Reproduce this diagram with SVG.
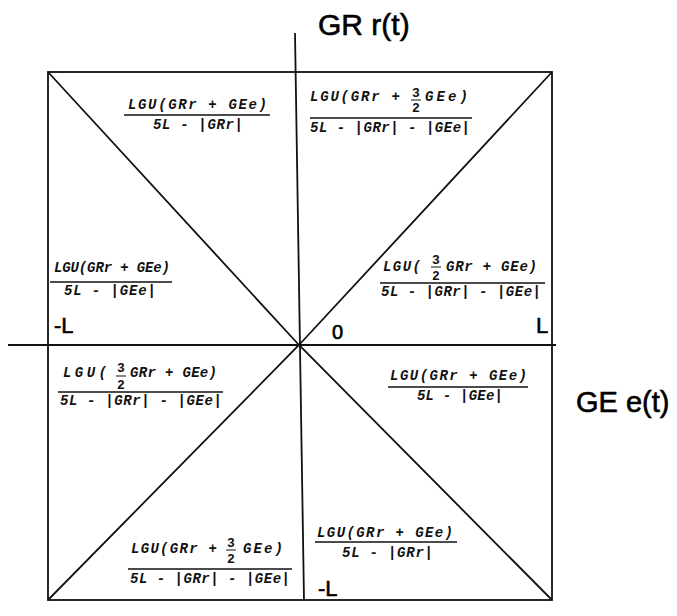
<svg xmlns="http://www.w3.org/2000/svg" width="677" height="616" viewBox="0 0 677 616">
<style>
.ln{stroke:#111;stroke-width:1.8;fill:none}
.bar{stroke:#111;stroke-width:1.6}
.fb{stroke:#111;stroke-width:1}
.f{font-family:"Liberation Mono",monospace;font-style:italic;font-weight:bold;font-size:14px;fill:#111}
.d{font-family:"Liberation Mono",monospace;font-weight:bold;font-size:13px;fill:#111}
.ax{font-family:"Liberation Sans",Arial,sans-serif;fill:#000;stroke:#000;stroke-width:0.6}
</style>
<rect width="677" height="616" fill="#fff"/>
<g id="connectors">
<rect class="ln" x="48" y="72" width="504" height="528"/>
<line class="ln" x1="8" y1="345" x2="556" y2="345"/>
<line class="ln" x1="295" y1="33" x2="304" y2="600"/>
<polyline class="ln" points="48,72 299,345 552,600"/>
<polyline class="ln" points="552,72 299,345 48,600"/>
</g>
<g id="axis-r"><text class="ax" x="318" y="35" font-size="30">GR r(t)</text></g>
<g id="axis-e"><text class="ax" x="576" y="412" font-size="29">GE e(t)</text></g>
<g id="tick-left"><text class="ax" x="54" y="333" font-size="22">-L</text></g>
<g id="tick-origin"><text class="ax" x="332" y="339" font-size="20">0</text></g>
<g id="tick-right"><text class="ax" x="536" y="333" font-size="22">L</text></g>
<g id="tick-bottom"><text class="ax" x="318" y="596" font-size="22">-L</text></g>

<g id="f1">
<text class="f" x="128" y="109" textLength="139" lengthAdjust="spacing">LGU(GRr + GEe)</text>
<line class="bar" x1="124" y1="115" x2="270" y2="115"/>
<text class="f" x="153" y="129" textLength="90" lengthAdjust="spacing">5L - |GRr|</text>
</g>
<g id="f2">
<text class="f" x="310" y="101" textLength="90" lengthAdjust="spacing">LGU(GRr +</text>
<text class="d" x="412" y="97">3</text>
<line class="fb" x1="411" y1="100" x2="421" y2="100"/>
<text class="d" x="412" y="112">2</text>
<text class="f" x="425" y="101" textLength="43" lengthAdjust="spacing">GEe)</text>
<line class="bar" x1="310" y1="118" x2="472" y2="118"/>
<text class="f" x="310" y="132" textLength="160" lengthAdjust="spacing">5L - |GRr| - |GEe|</text>
</g>
<g id="f3">
<text class="f" x="54" y="272" textLength="116" lengthAdjust="spacing">LGU(GRr + GEe)</text>
<line class="bar" x1="50" y1="282" x2="172" y2="282"/>
<text class="f" x="64" y="295" textLength="92" lengthAdjust="spacing">5L - |GEe|</text>
</g>
<g id="f4">
<text class="f" x="383" y="271" textLength="38" lengthAdjust="spacing">LGU(</text>
<text class="d" x="432" y="264">3</text>
<line class="fb" x1="431" y1="267" x2="441" y2="267"/>
<text class="d" x="432" y="280">2</text>
<text class="f" x="446" y="271" textLength="91" lengthAdjust="spacing">GRr + GEe)</text>
<line class="bar" x1="380" y1="283" x2="545" y2="283"/>
<text class="f" x="381" y="296" textLength="160" lengthAdjust="spacing">5L - |GRr| - |GEe|</text>
</g>
<g id="f5">
<text class="f" x="63" y="377" textLength="44" lengthAdjust="spacing">LGU(</text>
<text class="d" x="117" y="372">3</text>
<line class="fb" x1="116" y1="376" x2="126" y2="376"/>
<text class="d" x="117" y="389">2</text>
<text class="f" x="130" y="377" textLength="87" lengthAdjust="spacing">GRr + GEe)</text>
<line class="bar" x1="58" y1="392" x2="223" y2="392"/>
<text class="f" x="60" y="405" textLength="162" lengthAdjust="spacing">5L - |GRr| - |GEe|</text>
</g>
<g id="f6">
<text class="f" x="390" y="380" textLength="137" lengthAdjust="spacing">LGU(GRr + GEe)</text>
<line class="bar" x1="388" y1="387" x2="528" y2="387"/>
<text class="f" x="417" y="400" textLength="86" lengthAdjust="spacing">5L - |GEe|</text>
</g>
<g id="f7">
<text class="f" x="131" y="553" textLength="86" lengthAdjust="spacing">LGU(GRr +</text>
<text class="d" x="227" y="547">3</text>
<line class="fb" x1="226" y1="550" x2="236" y2="550"/>
<text class="d" x="227" y="563">2</text>
<text class="f" x="243" y="553" textLength="40" lengthAdjust="spacing">GEe)</text>
<line class="bar" x1="128" y1="569" x2="292" y2="569"/>
<text class="f" x="130" y="583" textLength="160" lengthAdjust="spacing">5L - |GRr| - |GEe|</text>
</g>
<g id="f8">
<text class="f" x="317" y="537" textLength="136" lengthAdjust="spacing">LGU(GRr + GEe)</text>
<line class="bar" x1="315" y1="542" x2="457" y2="542"/>
<text class="f" x="342" y="557" textLength="91" lengthAdjust="spacing">5L - |GRr|</text>
</g>
</svg>
